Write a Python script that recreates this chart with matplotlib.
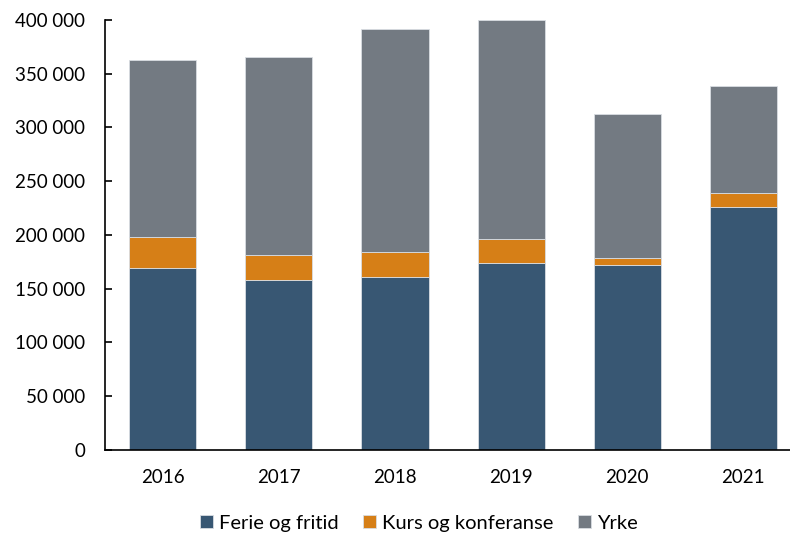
import matplotlib
matplotlib.use("Agg")
import matplotlib.pyplot as plt
from matplotlib.ticker import FuncFormatter, MultipleLocator
import numpy as np

plt.rcParams['font.family'] = ['Lato', 'DejaVu Sans']

years = ['2016', '2017', '2018', '2019', '2020', '2021']
ferie = [169000, 158400, 160900, 173600, 172100, 226300]
kurs = [29100, 23000, 23000, 22400, 6200, 12500]
yrke = [164400, 184200, 207700, 203700, 134500, 99500]

labels = ['Ferie og fritid', 'Kurs og konferanse', 'Yrke']
colors = ['#385773', '#D67F17', '#737A82']

fig = plt.figure(figsize=(7.9, 5.37), dpi=100)
ax = fig.add_axes([0.1325, 0.162, 0.882, 0.8008])

x = np.arange(len(years))
w = 0.577
bottom = np.zeros(len(years))
for vals, lab, col in zip([ferie, kurs, yrke], labels, colors):
    ax.bar(x, vals, w, bottom=bottom, color=col, label=lab,
           edgecolor='#d9dde2', linewidth=0.6)
    bottom += np.array(vals)

ax.set_xlim(-0.5, len(years) - 0.5)
ax.set_ylim(0, 400000)
ax.yaxis.set_major_locator(MultipleLocator(50000))
ax.yaxis.set_major_formatter(FuncFormatter(lambda v, p: '{:,.0f}'.format(v).replace(',', ' ')))
ax.set_xticks(x)
ax.set_xticklabels(years)

ax.spines['top'].set_visible(False)
ax.spines['right'].set_visible(False)
ax.spines['left'].set_linewidth(1.2)
ax.spines['bottom'].set_linewidth(1.2)
ax.tick_params(axis='y', direction='in', length=5, width=1.2, pad=14, labelsize=13.5)
ax.tick_params(axis='x', length=0, pad=14, labelsize=13.5)

# legend kept just inside the bottom edge
fig.legend(loc='center', bbox_to_anchor=(0.53, 0.026), ncol=3, frameon=False,
           fontsize=14.5, handlelength=0.65, handleheight=0.65, handletextpad=0.3,
           columnspacing=1.2)

fig.savefig('out.png', dpi=100)
